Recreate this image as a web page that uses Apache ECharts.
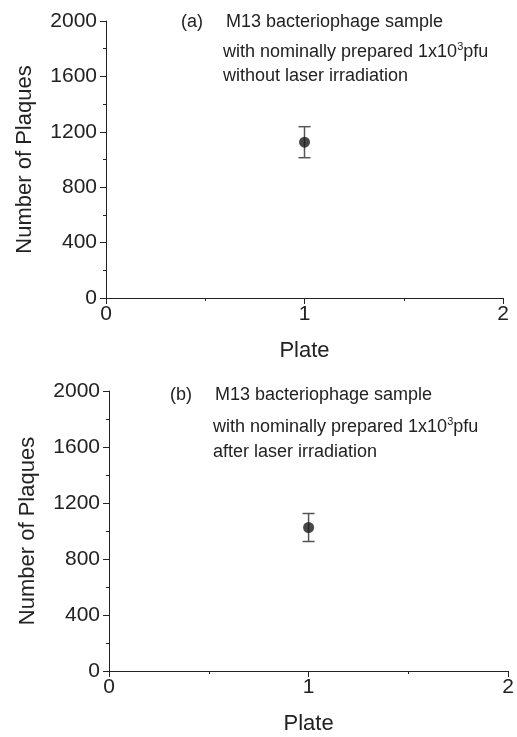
<!DOCTYPE html>
<html>
<head>
<meta charset="utf-8">
<script src="https://cdn.jsdelivr.net/npm/echarts@6/dist/echarts.min.js"></script>
<style>html,body{margin:0;padding:0;background:#fff}#c{width:517px;height:737px}</style>
</head>
<body>
<div id="c"></div>
<script>
// ---- data ----
const plates = [1];
const plaquesA = [1125];
const errA = [112];
const plaquesB = [1025];
const errB = [100];
const xTicks = [0, 1, 2];
const yTicks = [0, 400, 800, 1200, 1600, 2000];
const annoA = ['(a)', 'M13 bacteriophage sample', 'with nominally prepared 1x10{sup|3}pfu', 'without laser irradiation'];
const annoB = ['(b)', 'M13 bacteriophage sample', 'with nominally prepared 1x10{sup|3}pfu', 'after laser irradiation'];

const FONT = '"Liberation Sans", Arial, sans-serif';
const INK = '#222';

function xAxisCfg(idx) {
  return {
    gridIndex: idx, type: 'value', min: xTicks[0], max: xTicks[xTicks.length - 1], interval: 1,
    name: 'Plate', nameLocation: 'middle', nameGap: 42,
    nameTextStyle: { fontFamily: FONT, fontSize: 22, color: INK },
    axisLine: { show: true, onZero: false, lineStyle: { color: INK, width: 1 } },
    axisTick: { show: true, length: 6, lineStyle: { color: INK } },
    minorTick: { show: true, splitNumber: 2, length: 3, lineStyle: { color: INK } },
    axisLabel: { fontFamily: FONT, fontSize: 21, color: INK, margin: 6, formatter: v => String(v) },
    splitLine: { show: false }, minorSplitLine: { show: false }
  };
}
function yAxisCfg(idx) {
  return {
    gridIndex: idx, type: 'value', min: yTicks[0], max: yTicks[yTicks.length - 1], interval: 400,
    name: 'Number of Plaques', nameLocation: 'middle', nameGap: 70,
    nameTextStyle: { fontFamily: FONT, fontSize: 22, color: INK },
    axisLine: { show: true, onZero: false, lineStyle: { color: INK, width: 1 } },
    axisTick: { show: true, length: 6, lineStyle: { color: INK } },
    minorTick: { show: true, splitNumber: 2, length: 3, lineStyle: { color: INK } },
    axisLabel: { fontFamily: FONT, fontSize: 21, color: INK, margin: 9, formatter: v => String(v) },
    splitLine: { show: false }, minorSplitLine: { show: false }
  };
}

function errRender(params, api) {
  const x = api.value(0), lo = api.value(1), hi = api.value(2);
  const pt = api.coord([x, hi]);
  const pb = api.coord([x, lo]);
  const w = 6;
  const st = { stroke: '#555', lineWidth: 1.5 };
  return {
    type: 'group',
    children: [
      { type: 'line', shape: { x1: pt[0], y1: pt[1], x2: pb[0], y2: pb[1] }, style: st },
      { type: 'line', shape: { x1: pt[0] - w, y1: pt[1], x2: pt[0] + w, y2: pt[1] }, style: st },
      { type: 'line', shape: { x1: pb[0] - w, y1: pb[1], x2: pb[0] + w, y2: pb[1] }, style: st }
    ]
  };
}

function annoGraphics(lines, xs, ys) {
  return lines.map((t, i) => ({
    type: 'text', left: xs[i], top: ys[i],
    style: {
      text: t, fontFamily: FONT, fontSize: 18, fill: INK, lineHeight: 22,
      rich: { sup: { fontSize: 11, lineHeight: 12, verticalAlign: 'top', fontFamily: FONT, fill: INK } }
    }
  }));
}

const chart = echarts.init(document.getElementById('c'), null, { renderer: 'canvas' });
chart.setOption({
  backgroundColor: '#fff',
  animation: false,
  grid: [
    { left: 106, top: 21, width: 397, height: 277 },
    { left: 109, top: 391, width: 403, height: 280 }
  ],
  xAxis: [xAxisCfg(0), xAxisCfg(1)],
  yAxis: [yAxisCfg(0), yAxisCfg(1)],
  series: [
    { type: 'custom', xAxisIndex: 0, yAxisIndex: 0, renderItem: errRender,
      data: plates.map((p, i) => [p, plaquesA[i] - errA[i], plaquesA[i] + errA[i]]), z: 2 },
    { type: 'scatter', xAxisIndex: 0, yAxisIndex: 0, symbol: 'circle', symbolSize: 11,
      itemStyle: { color: '#1a1a1a' }, data: plates.map((p, i) => [p, plaquesA[i]]), z: 3 },
    { type: 'custom', xAxisIndex: 1, yAxisIndex: 1, renderItem: errRender,
      data: plates.map((p, i) => [p, plaquesB[i] - errB[i], plaquesB[i] + errB[i]]), z: 2 },
    { type: 'scatter', xAxisIndex: 1, yAxisIndex: 1, symbol: 'circle', symbolSize: 11,
      itemStyle: { color: '#1a1a1a' }, data: plates.map((p, i) => [p, plaquesB[i]]), z: 3 }
  ],
  graphic: [].concat(
    annoGraphics(annoA, [181, 226, 223, 223], [11, 11, 41, 65]),
    annoGraphics(annoB, [170, 215, 213, 213], [384, 384, 416, 441])
  )
});
</script>
</body>
</html>
